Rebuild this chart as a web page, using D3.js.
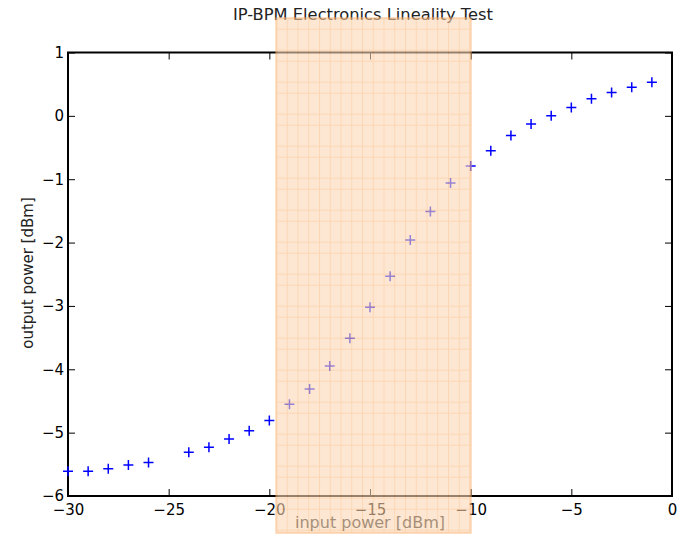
<!DOCTYPE html>
<html>
<head>
<meta charset="utf-8">
<script src="https://cdn.jsdelivr.net/npm/d3@7"></script>
<style>
  body { margin: 0; background: #fff; }
  text { font-family: "DejaVu Sans", sans-serif; }
</style>
</head>
<body>
<div id="app"></div>
<script>
// measured input / output power
const inputPower = [-30, -29, -28, -27, -26, -24, -23, -22, -21, -20, -19, -18, -17, -16, -15,
                    -14, -13, -12, -11, -10, -9, -8, -7, -6, -5, -4, -3, -2, -1];
const outputPower = [-5.61, -5.61, -5.57, -5.51, -5.47, -5.31, -5.23, -5.10, -4.97, -4.81, -4.55,
                     -4.31, -3.95, -3.51, -3.02, -2.53, -1.96, -1.51, -1.06, -0.79, -0.55, -0.31,
                     -0.13, 0.0, 0.13, 0.27, 0.37, 0.45, 0.53];
const xTicks = [-30, -25, -20, -15, -10, -5, 0];
const yTicks = [-6, -5, -4, -3, -2, -1, 0, 1];
// highlighted linear region
const spanX = [-19.65, -10.0];
const spanY = [-6.58, 1.54];

const W = 679, H = 534;
const m = { left: 68, right: 672, top: 52.5, bottom: 496 };

const svg = d3.select('#app').append('svg')
  .attr('width', W)
  .attr('height', H);

const x = d3.scaleLinear().domain([-30, 0]).range([m.left, m.right]);
const y = d3.scaleLinear().domain([-6, 1]).range([m.bottom, m.top]);

const fmt = d => (d < 0 ? '\u2212' + Math.abs(d) : String(d));

// axes (ticks inward)
const tickLen = 7;
svg.append('g')
  .attr('transform', `translate(0,${m.bottom})`)
  .call(d3.axisBottom(x).tickValues(xTicks).tickSizeInner(-tickLen).tickSizeOuter(0).tickPadding(8).tickFormat(fmt))
  .call(g => g.select('.domain').remove())
  .call(g => g.selectAll('text').attr('font-size', 15).attr('fill', '#000'));

svg.append('g')
  .attr('transform', `translate(0,${m.top})`)
  .call(d3.axisTop(x).tickValues(xTicks).tickSizeInner(-tickLen).tickSizeOuter(0).tickFormat(''))
  .call(g => g.select('.domain').remove());

svg.append('g')
  .attr('transform', `translate(${m.left},0)`)
  .call(d3.axisLeft(y).tickValues(yTicks).tickSizeInner(-tickLen).tickSizeOuter(0).tickPadding(4).tickFormat(fmt))
  .call(g => g.select('.domain').remove())
  .call(g => g.selectAll('text').attr('font-size', 15).attr('fill', '#000'));

svg.append('g')
  .attr('transform', `translate(${m.right},0)`)
  .call(d3.axisRight(y).tickValues(yTicks).tickSizeInner(-tickLen).tickSizeOuter(0).tickFormat(''))
  .call(g => g.select('.domain').remove());

// frame
svg.append('rect')
  .attr('x', m.left)
  .attr('y', m.top)
  .attr('width', m.right - m.left)
  .attr('height', m.bottom - m.top)
  .attr('fill', 'none')
  .attr('stroke', '#000')
  .attr('stroke-width', 2);

// markers
const data = inputPower.map((d, i) => ({ x: d, y: outputPower[i] }));
const s = 5;
svg.append('g')
  .selectAll('path')
  .data(data)
  .join('path')
  .attr('d', d => {
    const px = x(d.x), py = y(d.y);
    return `M${px - s},${py}H${px + s}M${px},${py - s}V${py + s}`;
  })
  .attr('stroke', '#0000ff')
  .attr('stroke-width', 1.5)
  .attr('fill', 'none');

// labels
svg.append('text')
  .attr('x', (m.left + m.right) / 2 - 7)
  .attr('y', 20)
  .attr('text-anchor', 'middle')
  .attr('font-size', 16.3)
  .attr('fill', '#222')
  .text('IP-BPM Electronics Lineality Test');

svg.append('text')
  .attr('x', (m.left + m.right) / 2)
  .attr('y', 528)
  .attr('text-anchor', 'middle')
  .attr('font-size', 16)
  .attr('fill', '#222')
  .text('input power [dBm]');

svg.append('text')
  .attr('transform', `translate(33,273) rotate(-90)`)
  .attr('text-anchor', 'middle')
  .attr('font-size', 15)
  .attr('fill', '#222')
  .text('output power [dBm]');

// highlighted span with grid pattern
const defs = svg.append('defs');
const pat = defs.append('pattern')
  .attr('id', 'grid')
  .attr('patternUnits', 'userSpaceOnUse')
  .attr('x', 276)
  .attr('y', 156.7)
  .attr('width', 10.75)
  .attr('height', 32);
pat.append('rect').attr('width', 10.75).attr('height', 32).attr('fill', '#fcd8b5');
pat.append('path')
  .attr('d', 'M0.5,0V32M0,0.5H10.75M0,21.5H10.75')
  .attr('stroke', '#fbbd84')
  .attr('stroke-width', 1);

svg.append('rect')
  .attr('x', x(spanX[0]))
  .attr('y', y(spanY[1]))
  .attr('width', x(spanX[1]) - x(spanX[0]))
  .attr('height', y(spanY[0]) - y(spanY[1]))
  .attr('fill', 'url(#grid)')
  .attr('opacity', 0.6)
  .attr('stroke', '#fbb474')
  .attr('stroke-width', 2);
</script>
</body>
</html>
